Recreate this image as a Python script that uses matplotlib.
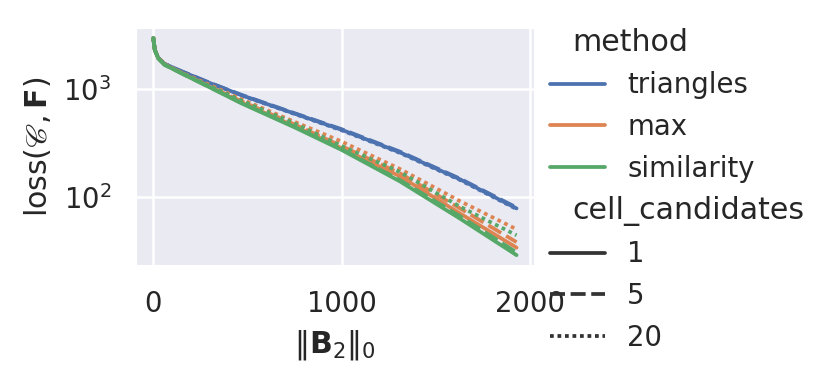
import matplotlib
matplotlib.use("Agg")
import matplotlib.pyplot as plt
from matplotlib.lines import Line2D
import seaborn as sns

# number of nonzeros in B2 (x) and loss per method / cell_candidates
steps = [0, 8, 26, 60, 150, 300, 470, 750, 1000, 1310, 1630, 1930]

methods = ["triangles", "max", "similarity"]
cell_candidates = ["1", "5", "20"]

loss = {
    ("triangles", "1"): [2966, 2300, 1940, 1700, 1450, 1132, 871, 590, 418, 258, 145, 78],
    ("triangles", "5"): [2966, 2300, 1940, 1700, 1455, 1138, 877, 595, 423, 262, 147, 79.5],
    ("triangles", "20"): [2966, 2300, 1940, 1700, 1447, 1127, 866, 586, 413, 255, 143, 77],
    ("max", "1"): [2966, 2295, 1925, 1680, 1400, 1040, 745, 452, 282, 155, 70, 33.8],
    ("max", "5"): [2966, 2295, 1930, 1685, 1405, 1050, 765, 468, 295, 165, 78, 38],
    ("max", "20"): [2966, 2295, 1930, 1690, 1415, 1087, 798, 495, 325, 181, 91, 50],
    ("similarity", "1"): [2966, 2290, 1920, 1670, 1390, 1031, 731, 440, 272, 139, 62.7, 28.8],
    ("similarity", "5"): [2966, 2290, 1920, 1670, 1393, 1035, 738, 446, 276, 143, 66, 30.5],
    ("similarity", "20"): [2966, 2290, 1925, 1675, 1408, 1060, 775, 478, 296, 170, 81, 44],
}

colors = sns.color_palette("deep", 3)
dashes = {"1": "", "5": (4, 1.5), "20": (1, 1)}


def adjust_subtitles(legend):
    # shrink the empty handle area of subtitle rows and use title font size
    size = plt.rcParams["legend.title_fontsize"]
    column = legend._legend_handle_box.get_children()[0]
    for row in column.get_children():
        draw_area, text_area = row.get_children()
        if not all(a.get_visible() for a in draw_area.get_children()):
            draw_area.set_width(0)
            for t in text_area.get_children():
                t.set_size(size)


def main():
    sns.set_theme(style="darkgrid")
    fig = plt.figure(figsize=(829 / 180, 380 / 180), dpi=180)
    ax = fig.add_axes([0.163, 0.30, 0.482, 0.629])

    for i, m in enumerate(methods):
        for c in cell_candidates:
            line, = ax.plot(steps, loss[(m, c)], color=colors[i])
            if dashes[c]:
                line.set_dashes(dashes[c])

    ax.set_yscale("log")
    ax.set_xticks([0, 1000, 2000])
    ax.set_xlabel(r"$\|\mathbf{B}_2\|_0$")
    ax.set_ylabel(r"loss$(\mathscr{C}, \mathbf{F})$")

    handles = [Line2D([], [], linestyle="", visible=False)]
    labels = ["method"]
    for i, m in enumerate(methods):
        handles.append(Line2D([], [], color=colors[i]))
        labels.append(m)
    handles.append(Line2D([], [], linestyle="", visible=False))
    labels.append("cell_candidates")
    for c in cell_candidates:
        h = Line2D([], [], color=".2")
        if dashes[c]:
            h.set_dashes(dashes[c])
        handles.append(h)
        labels.append(c)

    leg = fig.legend(handles, labels, loc="center right", bbox_to_anchor=(1, 0.5), frameon=False)
    adjust_subtitles(leg)

    fig.savefig("out.png", dpi=180)


if __name__ == "__main__":
    main()
